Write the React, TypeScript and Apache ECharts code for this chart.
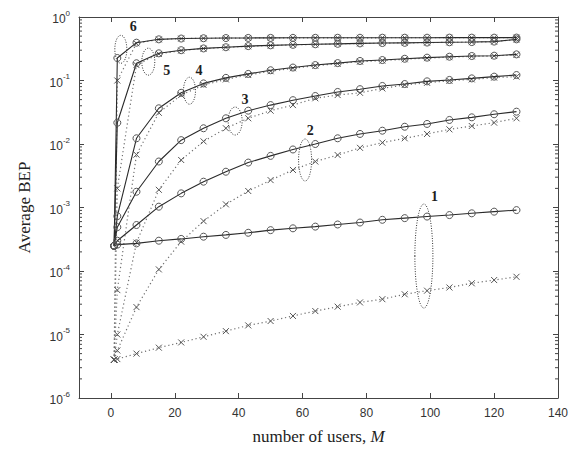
import React, { useEffect, useRef } from "react";
import * as echarts from "echarts";

// number of users M at which the curves are sampled
const users = [1, 2, 8, 15, 22, 29, 36, 43, 50, 57, 64, 71, 78, 85, 92, 99, 106, 113, 120, 127];

// solid curves (circles)
const solid1 = [2.5e-4, 2.6e-4, 2.72e-4, 3.0e-4, 3.2e-4, 3.47e-4, 3.7e-4, 4.0e-4, 4.4e-4, 4.7e-4, 5.0e-4, 5.4e-4, 5.8e-4, 6.4e-4, 6.8e-4, 7.2e-4, 7.6e-4, 8.1e-4, 8.6e-4, 9.1e-4];
const solid2 = [2.5e-4, 3.0e-4, 5.3e-4, 1.03e-3, 1.67e-3, 2.55e-3, 3.66e-3, 5.1e-3, 6.5e-3, 8.2e-3, 0.01, 0.0123, 0.0144, 0.0162, 0.0187, 0.0207, 0.0239, 0.0263, 0.0294, 0.0323];
const solid3 = [2.5e-4, 4.9e-4, 1.77e-3, 5.3e-3, 0.0115, 0.0177, 0.0254, 0.0335, 0.041, 0.049, 0.057, 0.066, 0.073, 0.082, 0.088, 0.097, 0.102, 0.108, 0.115, 0.122];
const solid4 = [2.5e-4, 7.3e-4, 0.0123, 0.0365, 0.064, 0.09, 0.11, 0.127, 0.145, 0.16, 0.175, 0.188, 0.203, 0.21, 0.22, 0.229, 0.237, 0.243, 0.246, 0.258];
const solid5 = [2.5e-4, 0.0216, 0.187, 0.268, 0.3, 0.32, 0.334, 0.348, 0.358, 0.365, 0.372, 0.378, 0.384, 0.389, 0.392, 0.396, 0.4, 0.403, 0.41, 0.445];
const solid6 = [2.5e-4, 0.226, 0.394, 0.445, 0.458, 0.463, 0.466, 0.468, 0.469, 0.47, 0.47, 0.471, 0.471, 0.472, 0.472, 0.472, 0.473, 0.473, 0.473, 0.474];

// dotted curves (crosses)
const dotted1 = [4.0e-6, 4.1e-6, 5.0e-6, 6.2e-6, 7.5e-6, 9.2e-6, 1.13e-5, 1.39e-5, 1.63e-5, 1.96e-5, 2.34e-5, 2.74e-5, 3.2e-5, 3.6e-5, 4.3e-5, 4.9e-5, 5.5e-5, 6.4e-5, 7.2e-5, 8.1e-5];
const dotted2 = [4.0e-6, 5.6e-6, 2.7e-5, 1.06e-4, 2.9e-4, 6.1e-4, 1.12e-3, 1.82e-3, 2.7e-3, 3.9e-3, 5.3e-3, 6.7e-3, 8.7e-3, 0.0105, 0.0123, 0.0144, 0.017, 0.0192, 0.0217, 0.0254];
const dotted3 = [4.0e-6, 1.0e-5, 2.8e-4, 1.9e-3, 5.6e-3, 0.011, 0.0177, 0.0254, 0.0335, 0.041, 0.0525, 0.059, 0.064, 0.075, 0.085, 0.092, 0.099, 0.104, 0.111, 0.115];
const dotted4 = [4.0e-6, 5.0e-5, 0.0068, 0.031, 0.059, 0.085, 0.104, 0.122, 0.14, 0.156, 0.171, 0.184, 0.198, 0.206, 0.216, 0.225, 0.233, 0.24, 0.244, 0.254];
const dotted5 = [4.0e-6, 2.0e-3, 0.175, 0.262, 0.296, 0.318, 0.332, 0.346, 0.356, 0.364, 0.371, 0.377, 0.383, 0.388, 0.391, 0.395, 0.399, 0.402, 0.409, 0.443];
const dotted6 = [4.0e-6, 0.1, 0.385, 0.443, 0.457, 0.462, 0.465, 0.467, 0.468, 0.469, 0.469, 0.47, 0.47, 0.471, 0.471, 0.471, 0.472, 0.472, 0.472, 0.473];

const solidCurves = [solid1, solid2, solid3, solid4, solid5, solid6];
const dottedCurves = [dotted1, dotted2, dotted3, dotted4, dotted5, dotted6];

// axis ticks
const xTicks = [0, 20, 40, 60, 80, 100, 120, 140];
const decades = [-6, -5, -4, -3, -2, -1];
const minorFactors = [2, 3, 4, 5, 6, 7, 8, 9];

// curve-number annotations (in data coordinates)
const annoText = ["1", "2", "3", "4", "5", "6"];
const annoTextM = [101.3, 62.4, 42, 27.6, 17.5, 6.95];
const annoTextBEP = [1.48e-3, 0.0166, 0.0511, 0.143, 0.143, 0.696];
const ellipseM = [98, 60.8, 38.9, 24.6, 11.7, 3.1];
const ellipseBEP = [1.72e-4, 0.0056, 0.023, 0.069, 0.198, 0.31];
const ellipseRx = [9, 6.5, 7, 6, 6.5, 6];
const ellipseRy = [52, 21, 14, 13.5, 13.5, 14];

const AXIS = "#444";
const crossPath = "path://M0,0L10,10M10,0L0,10";

export default function App() {
  const ref = useRef<HTMLDivElement>(null);
  useEffect(() => {
    document.body.style.margin = "0";
    const chart = echarts.init(ref.current!, null, { renderer: "svg" });

    const minorTicks: number[][] = [];
    decades.forEach((d) => minorFactors.forEach((f) => minorTicks.push([0, f * Math.pow(10, d)])));

    const series: any[] = [];
    dottedCurves.forEach((c, i) => {
      series.push({
        type: "line",
        name: "dotted" + (i + 1),
        data: users.map((m, k) => [m, c[k]]),
        symbol: crossPath,
        symbolSize: 6,
        showSymbol: true,
        lineStyle: { color: "#707070", width: 1.2, type: [1.2, 2.8] },
        itemStyle: { color: "rgba(0,0,0,0)", borderColor: "#555", borderWidth: 1 },
        z: 2,
      });
    });
    solidCurves.forEach((c, i) => {
      series.push({
        type: "line",
        name: "solid" + (i + 1),
        data: users.map((m, k) => [m, c[k]]),
        symbol: "circle",
        symbolSize: 7,
        showSymbol: true,
        lineStyle: { color: "#2a2a2a", width: 1.1 },
        itemStyle: { color: "rgba(0,0,0,0)", borderColor: "#555", borderWidth: 1 },
        z: 3,
      });
    });
    series.push({
      type: "custom",
      name: "minorTicks",
      clip: false,
      silent: true,
      data: minorTicks,
      renderItem: (params: any, api: any) => {
        const v = api.value(1);
        const l = api.coord([-10, v]);
        const r = api.coord([140, v]);
        return {
          type: "group",
          children: [
            { type: "line", shape: { x1: l[0], y1: l[1], x2: l[0] + 3, y2: l[1] }, style: { stroke: AXIS, lineWidth: 1 } },
            { type: "line", shape: { x1: r[0], y1: r[1], x2: r[0] - 3, y2: r[1] }, style: { stroke: AXIS, lineWidth: 1 } },
          ],
        };
      },
      z: 1,
    });

    const xBase = {
      type: "value",
      min: -10,
      max: 140,
      splitLine: { show: false },
      axisLine: { show: true, onZero: false, lineStyle: { color: AXIS, width: 1 } },
      axisTick: { show: true, inside: true, length: 5, customValues: xTicks, lineStyle: { color: AXIS } },
    };
    const yLabelFmt = (v: number) => "{b|10}{s|" + Math.round(Math.log10(v)) + "}";
    const yBase = {
      type: "log",
      logBase: 10,
      min: 1e-6,
      max: 1,
      splitNumber: 6,
      splitLine: { show: false },
      axisLine: { show: true, onZero: false, lineStyle: { color: AXIS, width: 1 } },
      axisTick: { show: true, inside: true, length: 5, lineStyle: { color: AXIS } },
    };

    chart.setOption({
      animation: false,
      grid: { left: 79, right: 14, top: 17, bottom: 59 },
      xAxis: [
        {
          ...xBase,
          position: "bottom",
          axisLabel: { customValues: xTicks, margin: 9, color: "#333", fontFamily: "Liberation Sans", fontSize: 12 },
          name: "{a|number of users, }{m|M}",
          nameLocation: "middle",
          nameGap: 30,
          nameTextStyle: {
            rich: {
              a: { fontFamily: "Liberation Serif", fontSize: 17, color: "#222" },
              m: { fontFamily: "Liberation Serif", fontStyle: "italic", fontSize: 17, color: "#222" },
            },
          },
        },
        { ...xBase, position: "top", axisLabel: { show: false } },
      ],
      yAxis: [
        {
          ...yBase,
          position: "left",
          axisLabel: {
            formatter: yLabelFmt,
            margin: 9,
            rich: {
              b: { fontFamily: "Liberation Sans", fontSize: 12, color: "#333", lineHeight: 16, verticalAlign: "bottom" },
              s: { fontFamily: "Liberation Sans", fontSize: 8, color: "#333", lineHeight: 6, verticalAlign: "top" },
            },
          },
          name: "Average BEP",
          nameLocation: "middle",
          nameGap: 46,
          nameTextStyle: { fontFamily: "Liberation Serif", fontSize: 17, color: "#222" },
        },
        { ...yBase, position: "right", axisLabel: { show: false } },
      ],
      series,
    });

    const graphic: any[] = [];
    ellipseM.forEach((m, i) => {
      const p = chart.convertToPixel({ xAxisIndex: 0, yAxisIndex: 0 }, [m, ellipseBEP[i]]) as number[];
      graphic.push({
        type: "ellipse",
        shape: { cx: p[0], cy: p[1], rx: ellipseRx[i], ry: ellipseRy[i] },
        style: { fill: "none", stroke: "#333", lineWidth: 1, lineDash: [1, 1.5] },
        z: 10,
      });
    });
    annoText.forEach((t, i) => {
      const p = chart.convertToPixel({ xAxisIndex: 0, yAxisIndex: 0 }, [annoTextM[i], annoTextBEP[i]]) as number[];
      graphic.push({
        type: "text",
        x: p[0],
        y: p[1],
        style: {
          text: t,
          fontFamily: "Liberation Serif",
          fontWeight: "bold",
          fontSize: 14,
          fill: "#1e1e1e",
          align: "center",
          verticalAlign: "middle",
        },
        z: 10,
      });
    });
    chart.setOption({ graphic });

    return () => chart.dispose();
  }, []);
  return <div ref={ref} style={{ width: 572, height: 457 }} />;
}
